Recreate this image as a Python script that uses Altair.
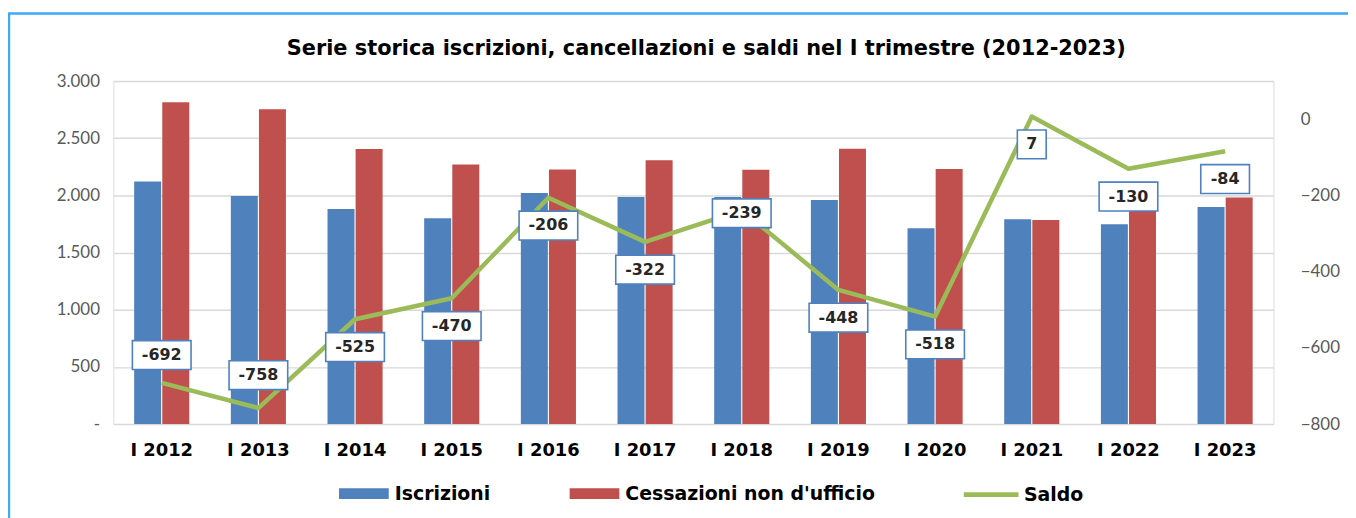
import altair as alt
import pandas as pd

categorie = ["I 2012", "I 2013", "I 2014", "I 2015", "I 2016", "I 2017",
             "I 2018", "I 2019", "I 2020", "I 2021", "I 2022", "I 2023"]
iscrizioni = [2122, 1995, 1880, 1800, 2020, 1985, 1985, 1960, 1712, 1792, 1748, 1898]
cessazioni = [2814, 2753, 2405, 2270, 2226, 2307, 2224, 2408, 2230, 1785, 1878, 1982]
saldo = [-692, -758, -525, -470, -206, -322, -239, -448, -518, 7, -130, -84]

serie_barre = ["Iscrizioni", "Cessazioni non d'ufficio"]
colori_barre = ["#4f81bd", "#c0504d"]
colore_saldo = "#9bbb59"

FONT = "Lato"
BOLD = "DejaVu Sans"
W, H = 1167, 345

rows = []
for c, i, s in zip(categorie, iscrizioni, cessazioni):
    rows.append({"cat": c, "serie": serie_barre[0], "valore": i})
    rows.append({"cat": c, "serie": serie_barre[1], "valore": s})
bar_df = pd.DataFrame(rows)
line_df = pd.DataFrame({"cat": categorie, "saldo": saldo})

x_enc = alt.X("cat:N", sort=categorie,
              scale=alt.Scale(domain=categorie, paddingInner=0.43, paddingOuter=0.215),
              axis=alt.Axis(title=None, labelAngle=0, domain=False, ticks=False,
                            labelFont=BOLD, labelFontSize=18, labelFontWeight="bold",
                            labelColor="#000000", labelPadding=18))

frame = alt.Chart(pd.DataFrame({"k": [0]})).mark_rect(
    fillOpacity=0, stroke="#3fa9f5", strokeWidth=2.5
).encode(
    x=alt.value(-105), x2=alt.value(W + 300),
    y=alt.value(-68), y2=alt.value(H + 300)
)

bars = alt.Chart(bar_df).mark_bar().encode(
    x=x_enc,
    xOffset=alt.XOffset("serie:N", sort=serie_barre,
                        scale=alt.Scale(domain=serie_barre, paddingInner=0.04)),
    y=alt.Y("valore:Q", scale=alt.Scale(domain=[0, 3000], nice=False),
            axis=alt.Axis(title=None, values=[0, 500, 1000, 1500, 2000, 2500, 3000],
                          grid=True, gridColor="#d9d9d9", gridWidth=1.5,
                          domain=False, ticks=False, labelFont=FONT, labelFontSize=17,
                          labelColor="#595959", labelPadding=14,
                          labelExpr="datum.value == 0 ? '-' : replace(format(datum.value, ',.0f'), ',', '.')")),
    color=alt.Color("serie:N", sort=serie_barre,
                    scale=alt.Scale(domain=serie_barre, range=colori_barre),
                    legend=alt.Legend(title=None, orient="none", legendX=227, legendY=390,
                                      direction="horizontal", symbolType="M-1,-0.22H1V0.22H-1Z",
                                      symbolSize=2500, symbolStrokeWidth=0, padding=0,
                                      labelFont=BOLD, labelFontSize=19, labelFontWeight="bold",
                                      labelColor="#000000", labelOffset=6, labelLimit=400,
                                      columnPadding=79))
)

y_right = alt.Y("saldo:Q", scale=alt.Scale(domain=[-800, 100], nice=False, zero=False),
                axis=alt.Axis(title=None, orient="right", values=[-800, -600, -400, -200, 0],
                              grid=False, domain=False, ticks=False, labelFont=FONT,
                              labelFontSize=17, labelColor="#595959", labelPadding=27))

line = alt.Chart(line_df).transform_calculate(serie="'Saldo'").mark_line(
    strokeWidth=4.5, strokeJoin="round"
).encode(
    x=x_enc,
    y=y_right,
    stroke=alt.Stroke("serie:N", scale=alt.Scale(domain=["Saldo"], range=[colore_saldo]),
                      legend=alt.Legend(title=None, orient="none", legendX=853, legendY=386,
                                        symbolType="stroke", symbolSize=3025,
                                        symbolStrokeWidth=5, padding=0,
                                        labelFont=BOLD, labelFontSize=19, labelFontWeight="bold",
                                        labelColor="#000000", labelOffset=3))
)

label_base = alt.Chart(line_df).transform_calculate(
    label="'' + datum.saldo",
    w="5 * length('' + datum.saldo) + 9.5",
).transform_calculate(
    box="'M' + (-datum.w) + ',-14.5H' + datum.w + 'V14.5H' + (-datum.w) + 'Z'"
)


def etichette(filtro, dy):
    b = label_base.transform_filter(filtro)
    boxes = b.mark_point(size=4, filled=True, fill="white", fillOpacity=1, opacity=1,
                         stroke="#4f81bd", strokeWidth=1.6, yOffset=dy).encode(
        x=x_enc, y=y_right, shape=alt.Shape("box:N", scale=None))
    texts = b.mark_text(font=BOLD, fontSize=16, fontWeight="bold", color="#262626",
                        baseline="middle", yOffset=dy).encode(
        x=x_enc, y=y_right, text="label:N")
    return [boxes, texts]


sopra1 = etichette(alt.FieldEqualPredicate(field="cat", equal="I 2012"), -28)
sopra2 = etichette(alt.FieldEqualPredicate(field="cat", equal="I 2013"), -33)
sul = etichette(alt.FieldEqualPredicate(field="cat", equal="I 2018"), 3)
sotto = etichette(alt.FieldOneOfPredicate(field="cat", oneOf=[c for c in categorie if c not in ("I 2012", "I 2013", "I 2018")]), 28)

right_layer = alt.layer(line, *sopra1, *sopra2, *sul, *sotto)

chart = alt.layer(frame, bars, right_layer).resolve_scale(
    y="independent"
).properties(
    width=W, height=H,
    autosize=alt.AutoSizeParams(type="none"),
    padding={"left": 106, "top": 72, "right": 75, "bottom": 93},
    title=alt.TitleParams("Serie storica iscrizioni, cancellazioni e saldi nel I trimestre (2012-2023)",
                          font=BOLD, fontSize=21, fontWeight="bold", color="#000000",
                          anchor="middle", frame="group", offset=0, dx=13, dy=47)
).configure_view(strokeWidth=0).configure(background="white")

chart.save("out.html", embed_options={"renderer": "svg", "actions": False})
